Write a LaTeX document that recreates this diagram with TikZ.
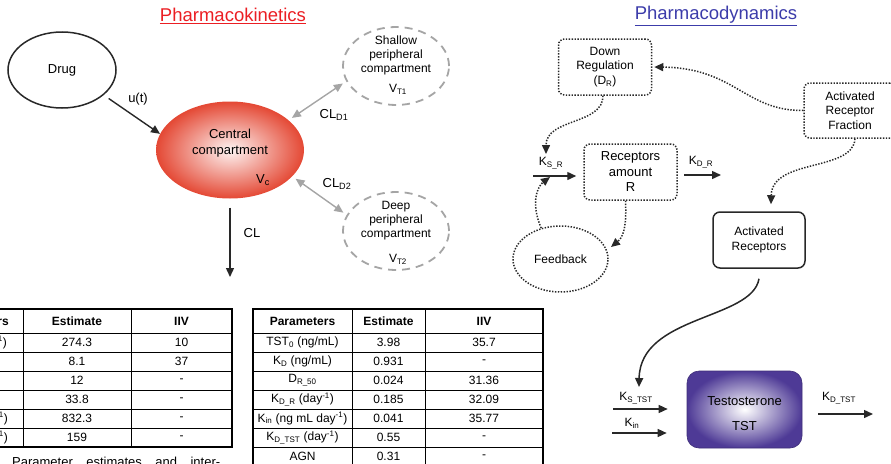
\documentclass[tikz,border=0pt]{standalone}
\usepackage{fontspec}
\setmainfont{Liberation Sans}
\usetikzlibrary{shapes.geometric,arrows.meta,calc}
\definecolor{pkred}{RGB}{235,30,35}
\definecolor{pdblue}{RGB}{60,60,170}
\definecolor{ccred}{RGB}{228,72,52}
\definecolor{tstpurple}{RGB}{78,58,150}
\definecolor{ink}{RGB}{40,40,40}
\definecolor{dashgray}{RGB}{165,165,165}
\newcommand{\rtrow}[5]{%
  \node[cell] (#1p) at (302.5,#2) {#3};
  \node[cell] (#1e) at (388.5,#2) {#4};
  \node[cell] (#1v) at (484,#2) {#5};}
\newcommand{\ltrow}[4]{%
  \node[cell] (#1e) at (77,#2) {#3};
  \node[cell] (#1v) at (181.5,#2) {#4};}
\begin{document}
\begin{tikzpicture}[x=1pt,y=-1pt,
  txtA/.style={font=\fontsize{13}{15.5}\selectfont, inner sep=0, align=center, text=black},
  txtB/.style={font=\fontsize{12}{14.5}\selectfont, inner sep=0, align=center, text=black},
  cell/.style={font=\fontsize{12}{14}\selectfont, inner sep=0},
  arr/.style={draw=ink, line width=1.4pt, -{Triangle[length=9pt,width=8pt]}},
  garr/.style={draw=dashgray, line width=1.4pt, {Triangle[length=9pt,width=8pt]}-{Triangle[length=9pt,width=8pt]}},
  darr/.style={draw=ink, line width=1.5pt, dash pattern=on 1.4pt off 1.5pt, -{Triangle[length=9pt,width=8pt]}},
  dotbox/.style={draw=ink, line width=1.5pt, dash pattern=on 1.4pt off 1.5pt, rounded corners=6pt, inner sep=0},
  dashell/.style={ellipse, draw=dashgray, line width=1.8pt, dash pattern=on 8pt off 6pt, minimum width=106pt, minimum height=78pt, inner sep=0},
  tline/.style={draw=black, line width=0.9pt},
  touter/.style={draw=black, line width=1.3pt}]
\useasboundingbox (0,0) rectangle (891,463);
\clip (0,0) rectangle (891,463);

% titles
\node[font=\fontsize{18.5}{22}\selectfont, text=pkred, inner sep=0] (pktitle) at (233,16) {\underline{Pharmacokinetics}};
\node[font=\fontsize{18.5}{22}\selectfont, text=pdblue, inner sep=0] (pdtitle) at (716,16) {\underline{Pharmacodynamics}};

% ---------- PK ----------
\node[ellipse, draw=ink, line width=1.5pt, minimum width=108pt, minimum height=76pt, txtA] (drug) at (62,70) {Drug};
\node[ellipse, minimum width=148pt, minimum height=97pt, inner sep=0, inner color=ccred!6, outer color=ccred] (central) at (230,150) {};
\node[txtA] (ctext) at (230,143) {Central\\compartment};
\node[txtA] (vc) at (263,180) {V\textsubscript{c}};

\node[dashell] (shallow) at (396,66) {};
\node[txtB, font=\fontsize{12}{14}\selectfont] (shtext) at (396,55) {Shallow\\peripheral\\compartment};
\node[txtB] (vt1) at (398,89) {V\textsubscript{T1}};

\node[dashell] (deep) at (396,231) {};
\node[txtB, font=\fontsize{12}{14}\selectfont] (dptext) at (396,221) {Deep\\peripheral\\compartment};
\node[txtB] (vt2) at (398,259) {V\textsubscript{T2}};

\draw[arr, shorten <=6pt] (drug.-31) -- (central.167);
\node[txtA] (ut) at (138,99) {u(t)};

\draw[garr, shorten <=4pt, shorten >=4pt] (central.27) -- (shallow.197);
\draw[garr, shorten <=4pt, shorten >=4pt] (central.-23) -- (deep.162);
\node[txtA] (cld1) at (334,115) {CL\textsubscript{D1}};
\node[txtA] (cld2) at (337,184) {CL\textsubscript{D2}};

\coordinate (clend) at (230,277);
\draw[arr, shorten <=9pt] (central.south) -- (clend);
\node[txtA] (cl) at (252,233) {CL};

% ---------- PD ----------
\node[dotbox, txtB, minimum width=93pt, minimum height=56pt] (downreg) at (605,67) {Down\\Regulation\\(D\textsubscript{R})};
\node[dotbox, txtB, minimum width=92pt, minimum height=55pt] (arf) at (850,110.5) {Activated\\Receptor\\Fraction};
\node[dotbox, txtA, minimum width=93pt, minimum height=56pt] (rec) at (630.5,172) {Receptors\\amount\\R};
\node[ellipse, draw=ink, line width=1.5pt, dash pattern=on 1.4pt off 1.5pt, minimum width=95pt, minimum height=66pt, txtB] (feedback) at (560.5,259) {Feedback};
\node[draw=ink, line width=1.5pt, rounded corners=7pt, minimum width=92pt, minimum height=56pt, txtB] (actrec) at (759,240) {Activated\\Receptors};
\node[rounded corners=12pt, minimum width=115pt, minimum height=77pt, inner sep=0, inner color=white, outer color=tstpurple, draw=tstpurple!80!black, line width=0.6pt] (tst) at (744.5,409.5) {};
\node[txtA, font=\fontsize{13}{25}\selectfont] (tsttext) at (744.5,413.5) {Testosterone\\TST};

% K_S_R and K_D_R
\coordinate (ksrA) at (533,176);
\draw[arr, shorten >=7pt] (ksrA) -- (ksrA -| rec.west);
\node[txtB] (ksr) at (551,163) {K\textsubscript{S\_R}};
\coordinate (kdrA) at (684,175);
\coordinate (kdrB) at (721,175);
\draw[arr] (kdrA) -- (kdrB);
\node[txtB] (kdr) at (701,162) {K\textsubscript{D\_R}};

% dotted connectors
\coordinate (ksrtop) at (546,154);
\draw[darr] ($(downreg.south)+(-2,0)$) .. controls (603,125) and (546,118) .. (ksrtop);
\draw[darr, shorten >=2pt] (arf.west) .. controls (745,111) and (735,68) .. (downreg.east);
\draw[darr] (arf.-80) .. controls (853,172) and (772,158) .. ($(actrec.north)+(12,-7)$);
\coordinate (fbin) at (611,247);
\draw[darr] ($(rec.south)+(-5,0)$) .. controls (627,230) and (622,238) .. (fbin);
\coordinate (ksrin) at (550,177);
\draw[darr] (feedback.122) .. controls (530,202) and (538,186) .. (ksrin);

% solid curve to K_S_TST
\coordinate (kstop) at (639,387);
\draw[arr, line width=1.5pt] ($(actrec.south)+(0,10)$) .. controls (752,320) and (640,315) .. (kstop);

% TST arrows
\coordinate (kstA) at (613,409);
\draw[arr, shorten >=19pt] (kstA) -- (kstA -| tst.west);
\node[txtB] (kst) at (636,398) {K\textsubscript{S\_TST}};
\coordinate (kinA) at (612,433);
\draw[arr, shorten >=20pt] (kinA) -- (kinA -| tst.west);
\node[txtB] (kin) at (632,423) {K\textsubscript{in}};
\coordinate (kdtA) at (818,414);
\coordinate (kdtB) at (873,414);
\draw[arr] (kdtA) -- (kdtB);
\node[txtB] (kdt) at (839,398) {K\textsubscript{D\_TST}};

% ---------- left table ----------
\draw[touter] (-80,309) rectangle (232,447);
\foreach \yy in {333,352,371,390,409,428} \draw[tline] (-80,\yy) -- (232,\yy);
\foreach \xx in {23,131} \draw[tline] (\xx,309) -- (\xx,447);
\node[cell, anchor=east, font=\fontsize{12}{14}\selectfont\bfseries] (lhp) at (9,321) {Parameters};
\node[cell, font=\fontsize{12}{14}\selectfont\bfseries] (lhe) at (77,321) {Estimate};
\node[cell, font=\fontsize{12}{14}\selectfont\bfseries] (lhv) at (181.5,321) {IIV};
\node[cell, anchor=east] (l1p) at (7,342.5) {CL (L day\textsuperscript{-1})};
\ltrow{l1}{342.5}{274.3}{10}
\ltrow{l2}{361.5}{8.1}{37}
\ltrow{l3}{380.5}{12}{-}
\ltrow{l4}{399.5}{33.8}{-}
\node[cell, anchor=east] (l5p) at (8,418.5) {CL\textsubscript{D1} (L day\textsuperscript{-1})};
\ltrow{l5}{418.5}{832.3}{-}
\node[cell, anchor=east] (l6p) at (8,437.5) {CL\textsubscript{D2} (L day\textsuperscript{-1})};
\ltrow{l6}{437.5}{159}{-}
\node[inner sep=0, anchor=base west, font=\fontsize{13}{15}\selectfont] (caption) at (12,466) {\makebox[208pt][s]{Parameter estimates and inter-}};

% ---------- right table ----------
\draw[touter] (253,475) -- (253,309) -- (543,309) -- (543,475);
\foreach \yy in {333,352,371,390,409,428,447} \draw[tline] (253,\yy) -- (543,\yy);
\foreach \xx in {352,425} \draw[tline] (\xx,309) -- (\xx,475);
\node[cell, font=\fontsize{12}{14}\selectfont\bfseries] (rhp) at (302.5,321) {Parameters};
\node[cell, font=\fontsize{12}{14}\selectfont\bfseries] (rhe) at (388.5,321) {Estimate};
\node[cell, font=\fontsize{12}{14}\selectfont\bfseries] (rhv) at (484,321) {IIV};
\rtrow{r1}{342.5}{TST\textsubscript{0} (ng/mL)}{3.98}{35.7}
\rtrow{r2}{361.5}{K\textsubscript{D} (ng/mL)}{0.931}{-}
\rtrow{r3}{380.5}{D\textsubscript{R\_50}}{0.024}{31.36}
\rtrow{r4}{399.5}{K\textsubscript{D\_R} (day\textsuperscript{-1})}{0.185}{32.09}
\rtrow{r5}{418.5}{K\textsubscript{in} (ng mL day\textsuperscript{-1})}{0.041}{35.77}
\rtrow{r6}{437.5}{K\textsubscript{D\_TST} (day\textsuperscript{-1})}{0.55}{-}
\rtrow{r7}{456.5}{AGN}{0.31}{-}
\end{tikzpicture}
\end{document}
